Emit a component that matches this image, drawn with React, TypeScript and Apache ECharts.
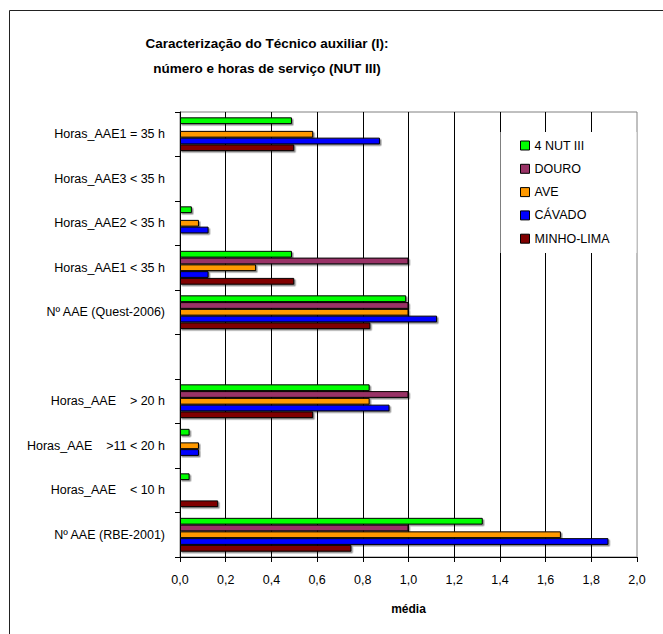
import React, { useEffect, useRef } from "react";
import * as echarts from "echarts";

const categories = [
  "Horas_AAE1 = 35 h",
  "Horas_AAE3 < 35 h",
  "Horas_AAE2 < 35 h",
  "Horas_AAE1 < 35 h",
  "Nº AAE (Quest-2006)",
  "",
  "Horas_AAE    > 20 h",
  "Horas_AAE    >11 < 20 h",
  "Horas_AAE    < 10 h",
  "Nº AAE (RBE-2001)",
];

const seriesNames = ["4 NUT III", "DOURO", "AVE", "CÁVADO", "MINHO-LIMA"];
const nut3 = [0.49, 0, 0.052, 0.49, 0.99, null, 0.83, 0.042, 0.042, 1.325];
const douro = [0, 0, 0, 1.0, 1.0, null, 1.0, 0, 0, 1.0];
const ave = [0.583, 0, 0.083, 0.333, 1.0, null, 0.83, 0.083, 0, 1.667];
const cavado = [0.875, 0, 0.125, 0.125, 1.125, null, 0.917, 0.083, 0, 1.875];
const minhoLima = [0.5, 0, 0, 0.5, 0.833, null, 0.583, 0, 0.167, 0.75];
const seriesValues = [nut3, douro, ave, cavado, minhoLima];
const seriesColors = ["#00FF00", "#993366", "#FF9900", "#0000FF", "#800000"];
const xTicks = { min: 0, max: 2, interval: 0.2 };
const titleLines = ["Caracterização do Técnico auxiliar (I):", "número e horas de serviço (NUT III)"];
const xName = "média";

const FONT = "'Liberation Sans', Arial, sans-serif";
const TITLE_FONT =
  "bold 13.5px 'Liberation Sans Narrow', 'Arial Narrow', 'Liberation Sans', Arial, sans-serif";

export default function App() {
  const ref = useRef<HTMLDivElement>(null);
  useEffect(() => {
    if (!ref.current) return;
    const chart = echarts.init(ref.current, undefined, { renderer: "svg" });
    chart.setOption({
      animation: false,
      backgroundColor: "#fff",
      textStyle: { fontFamily: FONT },
      graphic: [
        {
          type: "polyline",
          z: 0,
          shape: { points: [[9.5, 700], [9.5, 10.5], [700, 10.5]] },
          style: { fill: "none", stroke: "#222", lineWidth: 1 },
        },
        {
          type: "text",
          z: 5,
          x: 267,
          y: 43,
          style: {
            text: titleLines[0],
            fill: "#000",
            font: TITLE_FONT,
            textAlign: "center",
            textVerticalAlign: "middle",
          },
        },
        {
          type: "text",
          z: 5,
          x: 267,
          y: 68,
          style: {
            text: titleLines[1],
            fill: "#000",
            font: TITLE_FONT,
            textAlign: "center",
            textVerticalAlign: "middle",
          },
        },
        {
          type: "rect",
          z: 3,
          shape: { x: 500.5, y: 132, width: 136, height: 121 },
          style: { fill: "#fff", stroke: "none" },
        },
      ],
      legend: {
        orient: "vertical",
        left: 520,
        top: 138.5,
        padding: 0,
        itemWidth: 9,
        itemHeight: 9,
        itemGap: 9.3,
        icon: "rect",
        z: 6,
        data: seriesNames,
        textStyle: { fontSize: 12.5, color: "#000", fontFamily: FONT, lineHeight: 14 },
        itemStyle: { borderColor: "#000", borderWidth: 1 },
      },
      grid: {
        left: 180,
        right: 26,
        top: 112,
        bottom: 77,
        show: true,
        borderColor: "#808080",
        borderWidth: 1,
        backgroundColor: "transparent",
      },
      xAxis: {
        type: "value",
        min: xTicks.min,
        max: xTicks.max,
        interval: xTicks.interval,
        name: xName,
        nameLocation: "middle",
        nameGap: 46,
        nameTextStyle: { fontSize: 12, fontWeight: "bold", color: "#000", fontFamily: FONT },
        axisLine: { show: true, lineStyle: { color: "#000", width: 1 } },
        axisTick: { show: true, length: 5, lineStyle: { color: "#000" } },
        axisLabel: {
          fontSize: 12.5,
          color: "#000",
          margin: 16,
          formatter: (v: number) => v.toFixed(1).replace(".", ","),
        },
        splitLine: { show: true, showMaxLine: false, lineStyle: { color: "#000", width: 1 } },
      },
      yAxis: {
        type: "category",
        inverse: true,
        data: categories,
        axisLine: { show: true, lineStyle: { color: "#000", width: 1 } },
        axisTick: { show: true, length: 5, lineStyle: { color: "#000" } },
        axisLabel: { fontSize: 12.5, color: "#000", margin: 15 },
        splitLine: { show: false },
      },
      series: seriesNames.map((name, i) => ({
        name,
        type: "bar",
        data: seriesValues[i],
        barGap: "0%",
        barCategoryGap: "24%",
        itemStyle: {
          color: seriesColors[i],
          borderColor: "#000",
          borderWidth: 1,
          shadowColor: "rgba(0,0,0,0.45)",
          shadowOffsetX: 1.5,
          shadowOffsetY: 1.5,
          shadowBlur: 0,
        },
        emphasis: { disabled: true },
      })),
    });
    return () => chart.dispose();
  }, []);
  return (
    <div
      ref={ref}
      style={{ position: "fixed", left: 0, top: 0, width: 663, height: 634 }}
    />
  );
}
